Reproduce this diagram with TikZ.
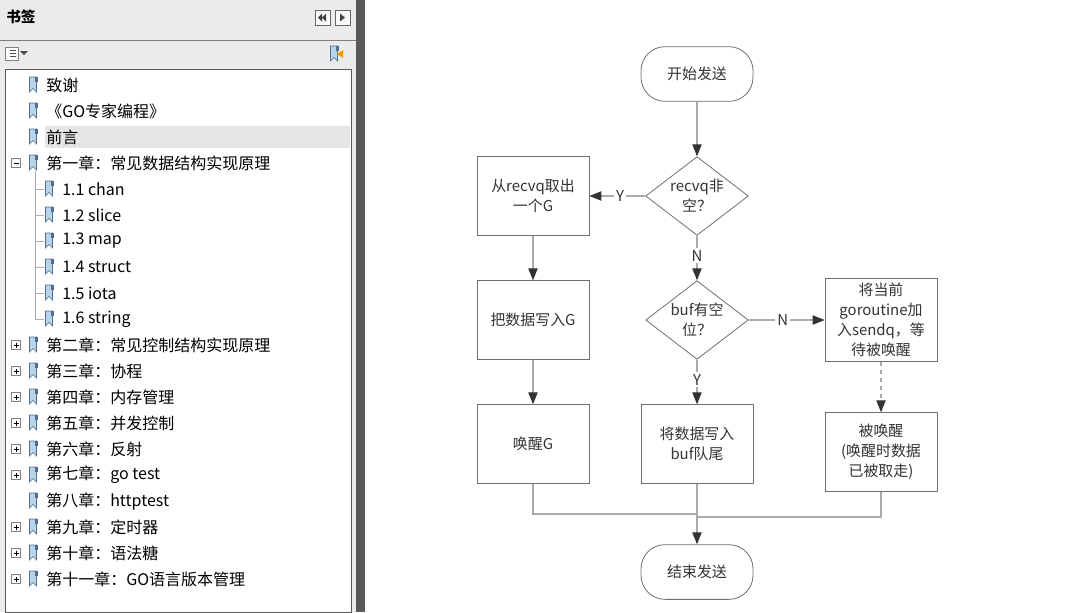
\documentclass[tikz,border=0pt]{standalone}
\usepackage{fontspec}
\setmainfont{Noto Sans CJK SC}
\usetikzlibrary{arrows.meta,shapes.geometric}
\definecolor{ln}{HTML}{AAAAAA}
\definecolor{ar}{HTML}{333333}
\definecolor{bm}{HTML}{B9D3E8}
\definecolor{bmd}{HTML}{4F6F8F}
\tikzset{
 box/.style={draw=ar!70,line width=0.6pt,minimum width=84pt,minimum height=59pt,align=center,font=\fontsize{11.2}{15}\selectfont,text=ar},
 term/.style={draw=ar!70,line width=0.6pt,rounded corners=18pt,minimum width=84pt,minimum height=41pt,font=\fontsize{11.2}{15}\selectfont,text=ar},
 dia/.style={draw=ar!70,line width=0.6pt,diamond,aspect=1.3,minimum width=77pt,minimum height=59pt,inner sep=0pt,align=center,font=\fontsize{11.2}{15}\selectfont,text=ar},
 con/.style={draw=ln,line width=0.8pt},
 arr/.style={con,-{Triangle[length=9pt,width=7pt,color=ar]}},
 lab/.style={fill=white,inner sep=1.5pt,font=\fontsize{11.2}{12}\selectfont,text=ar},
 side/.style={anchor=west,font=\fontsize{12}{13}\selectfont,text=black,inner sep=0pt},
 bmk/.pic={\draw[bmd,fill=bm,line width=0.5pt] (-3.5,-8)--(3.5,-8)--(3.5,7)--(0,3.5)--(-3.5,7)--cycle;
           \fill[bmd] (1.5,-8) rectangle (4.5,-3);},
 plus/.pic={\draw[gray,fill=white,line width=0.5pt] (-4.5,-4.5) rectangle (4.5,4.5);
            \draw[black,line width=0.6pt] (-2.5,0)--(2.5,0) (0,-2.5)--(0,2.5);},
 minus/.pic={\draw[gray,fill=white,line width=0.5pt] (-4.5,-4.5) rectangle (4.5,4.5);
            \draw[black,line width=0.6pt] (-2.5,0)--(2.5,0);},
}
\begin{document}
\begin{tikzpicture}[x=0.75pt,y=-0.75pt]
\useasboundingbox (0,0) rectangle (1066,612);
\fill[white] (0,0) rectangle (1066,612);
% sidebar
\fill[black!8] (0,0) rectangle (356,612);
\draw[gray,line width=0.6pt] (0,40)--(356,40);
\node[anchor=west,font=\fontsize{11}{12}\selectfont\bfseries,inner sep=0pt] (hdr) at (6,17) {书签};
\draw[gray!80!black,fill=white!95!gray] (315,10) rectangle (330,25);
\draw[gray!80!black,fill=white!95!gray] (335,10) rectangle (350,25);
\fill[black!75] (318,17.5)--(322,13.5)--(322,21.5)--cycle (322,17.5)--(326,13.5)--(326,21.5)--cycle;
\fill[black!75] (340,13.5)--(345,17.5)--(340,21.5)--cycle;
\draw[gray,fill=white] (5,47) rectangle (18,60);
\draw[black!70] (10,50.5)--(16,50.5) (10,53.5)--(16,53.5) (10,56.5)--(16,56.5);
\fill[black!70] (20,51)--(28,51)--(24,55)--cycle;
\pic at (334,54) {bmk};
\fill[orange!80!yellow] (337,54)--(343,50)--(343,58)--cycle;
\draw[gray!70!black,fill=white] (5,69) rectangle (351,612);
\fill[black!10] (45,126) rectangle (350,148);
% sidebar entries
\foreach \t [count=\i] in {致谢,《GO专家编程》,前言,第一章：常见数据结构实现原理} {
  \pic at (33,59+26*\i) {bmk};
  \node[side] (s\i) at (46,59+26*\i) {\t};}
\pic at (16,163) {minus};
\draw[ln,line width=0.6pt] (35,171)--(35,319);
\foreach \t [count=\j] in {1.1 chan,1.2 slice,1.3 map,1.4 struct,1.5 iota,1.6 string} {
  \draw[ln,line width=0.6pt] (35,163+26*\j)--(44,163+26*\j);
  \pic at (49,163+26*\j) {bmk};
  \node[side] (c\j) at (62,163+26*\j) {\t};}
\foreach \t [count=\k] in {第二章：常见控制结构实现原理,第三章：协程,第四章：内存管理,第五章：并发控制,第六章：反射,第七章：go test,第八章：httptest,第九章：定时器,第十章：语法糖,第十一章：GO语言版本管理} {
  \pic at (33,319+26*\k) {bmk};
  \node[side] (t\k) at (46,319+26*\k) {\t};}
\foreach \k in {1,...,6,8,9,10} {\pic at (16,319+26*\k) {plus};}
% divider
\fill[black!65] (356,0) rectangle (365,612);
% flowchart
\node[term] (start) at (697,74) {开始发送};
\node[dia] (d1) at (697,196) {recvq非\\空？};
\node[box] (b1) at (533,196) {从recvq取出\\一个G};
\node[box] (b2) at (533,320) {把数据写入G};
\node[dia] (d2) at (697,320) {buf有空\\位？};
\node[box] (b3) at (881,320) {将当前\\goroutine加\\入sendq，等\\待被唤醒};
\node[box] (b4) at (533,444) {唤醒G};
\node[box] (b5) at (697,444) {将数据写入\\buf队尾};
\node[box] (b6) at (881,452) {被唤醒\\(唤醒时数据\\已被取走)};
\node[term] (end) at (697,572) {结束发送};
\draw[arr] (start)--(d1);
\draw[arr] (d1.west)--(b1.east) node[lab,pos=0.45] {Y};
\draw[arr] (d1.south)--(d2.north) node[lab,pos=0.45] {N};
\draw[arr] (b1)--(b2);
\draw[arr] (d2.east)--(b3.west) node[lab,pos=0.45] {N};
\draw[arr] (d2.south)--(b5.north) node[lab,pos=0.45] {Y};
\draw[arr] (b2)--(b4);
\draw[arr,dashed] (b3)--(b6);
\coordinate (j) at (697,514);
\draw[con] (b4.south)|-(j);
\draw[con] (b6.south)|-(697,517);
\draw[arr] (b5)--(end);
\end{tikzpicture}
\end{document}
